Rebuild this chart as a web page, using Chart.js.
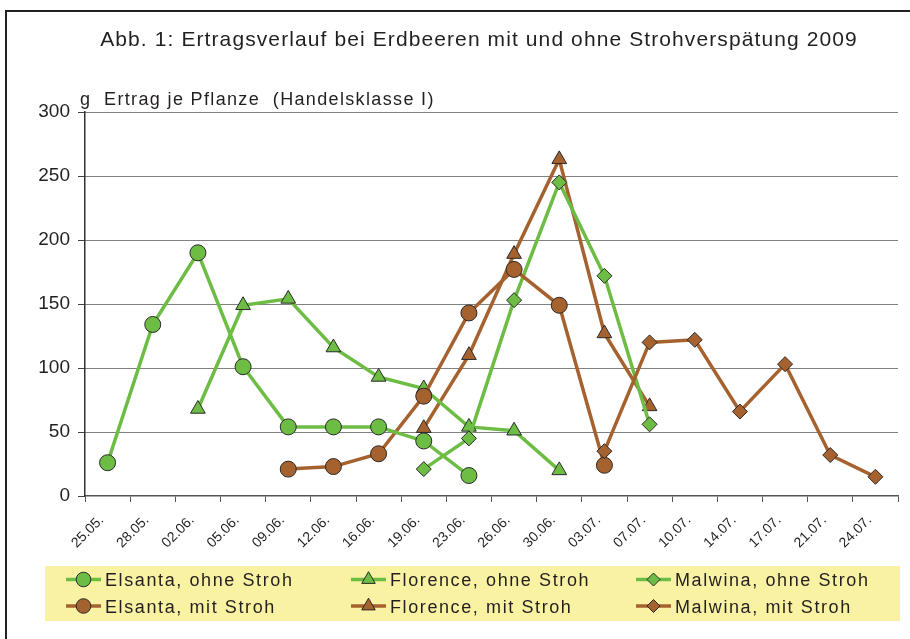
<!DOCTYPE html>
<html>
<head>
<meta charset="utf-8">
<script src="https://cdn.jsdelivr.net/npm/chart.js@4/dist/chart.umd.min.js"></script>
<style>
html,body{margin:0;padding:0;background:#fff;}
#wrap{width:910px;height:639px;position:relative;}
canvas{display:block;}
</style>
</head>
<body>
<div id="wrap"><canvas id="c" width="910" height="639"></canvas></div>
<script>
// ---- data ----
const titleText = 'Abb. 1: Ertragsverlauf bei Erdbeeren mit und ohne Strohverspätung 2009';
const yTitleText = 'g  Ertrag je Pflanze  (Handelsklasse I)';
const categories = ['25.05.','28.05.','02.06.','05.06.','09.06.','12.06.','16.06.','19.06.','23.06.','26.06.','30.06.','03.07.','07.07.','10.07.','14.07.','17.07.','21.07.','24.07.'];
const yTicks = [0, 50, 100, 150, 200, 250, 300];

const elsantaOhne  = [26, 134, 190, 101, 54, 54, 54, 43, 16, null, null, null, null, null, null, null, null, null];
const florenceOhne = [null, null, 68, 149, 154, 116, 93, 84, 54, 51, 20, null, null, null, null, null, null, null];
const malwinaOhne  = [null, null, null, null, null, null, null, 21, 45, 153, 245, 172, 56, null, null, null, null, null];
const elsantaMit   = [null, null, null, null, 21, 23, 33, 78, 143, 177, 149, 24, null, null, null, null, null, null];
const florenceMit  = [null, null, null, null, null, null, null, 53, 110, 189, 263, 127, 70, null, null, null, null, null];
const malwinaMit   = [null, null, null, null, null, null, null, null, null, null, null, 35, 120, 122, 66, 103, 32, 15];

const seriesNames = ['Elsanta, ohne Stroh','Florence, ohne Stroh','Malwina, ohne Stroh','Elsanta, mit Stroh','Florence, mit Stroh','Malwina, mit Stroh'];

// ---- styles ----
const GREEN = '#6dbd45';
const BROWN = '#a5622f';
const EDGE = '#2a2a2a';
const FONT = '"Liberation Sans", Arial, Helvetica, sans-serif';
const TEXT = '#231f20';
const radiusFor = {circle: 8, triangle: 8.5, rectRot: 7.5};

function ds(label, data, color, style, order) {
  return {
    label, data, order,
    borderColor: color, backgroundColor: color,
    pointBackgroundColor: color, pointBorderColor: EDGE, pointBorderWidth: 1,
    pointStyle: style, pointRadius: radiusFor[style], pointHoverRadius: radiusFor[style],
    borderWidth: 3.5, fill: false, tension: 0, spanGaps: false
  };
}

const datasets = [
  ds(seriesNames[0], elsantaOhne, GREEN, 'circle', 1),
  ds(seriesNames[1], florenceOhne, GREEN, 'triangle', 5),
  ds(seriesNames[2], malwinaOhne, GREEN, 'rectRot', 4),
  ds(seriesNames[3], elsantaMit, BROWN, 'circle', 3),
  ds(seriesNames[4], florenceMit, BROWN, 'triangle', 6),
  ds(seriesNames[5], malwinaMit, BROWN, 'rectRot', 2)
];

function marker(ctx, style, x, y, r) {
  ctx.beginPath();
  if (style === 'circle') {
    ctx.arc(x, y, r, 0, Math.PI * 2);
  } else if (style === 'triangle') {
    ctx.moveTo(x, y - r);
    ctx.lineTo(x + 0.866 * r, y + 0.5 * r);
    ctx.lineTo(x - 0.866 * r, y + 0.5 * r);
  } else {
    ctx.moveTo(x - r, y); ctx.lineTo(x, y - r); ctx.lineTo(x + r, y); ctx.lineTo(x, y + r);
  }
  ctx.closePath();
  ctx.fill();
  ctx.stroke();
}

const decorPlugin = {
  id: 'decor',
  beforeDraw(c) {
    const ctx = c.ctx;
    ctx.save();
    ctx.fillStyle = '#fff';
    ctx.fillRect(0, 0, c.width, c.height);
    ctx.restore();
  },
  afterDraw(c) {
    const ctx = c.ctx;
    ctx.save();
    // frame
    ctx.strokeStyle = '#222';
    ctx.lineWidth = 2;
    ctx.beginPath();
    ctx.moveTo(6, 639); ctx.lineTo(6, 11); ctx.lineTo(910, 11);
    ctx.stroke();

    // title
    ctx.fillStyle = TEXT;
    ctx.textBaseline = 'alphabetic';
    ctx.textAlign = 'left';
    ctx.font = '21px ' + FONT;
    ctx.letterSpacing = '1.1px';
    let w = ctx.measureText(titleText).width;
    ctx.fillText(titleText, 479 - w / 2, 46);

    // y axis title
    ctx.font = '18px ' + FONT;
    ctx.letterSpacing = '1.35px';
    ctx.fillText(yTitleText, 80, 105);

    // legend
    ctx.fillStyle = '#faf2a3';
    ctx.fillRect(45, 566, 855, 55);
    const colX = [66, 351, 636];
    const rowY = [579.5, 606];
    const styles = ['circle', 'triangle', 'rectRot'];
    const legR = {circle: 7.3, triangle: 7.8, rectRot: 6.5};
    ctx.font = '18px ' + FONT;
    ctx.letterSpacing = '1.6px';
    for (let i = 0; i < 6; i++) {
      const d = c.data.datasets[i];
      const col = i % 3, row = Math.floor(i / 3);
      const x0 = colX[col], y = rowY[row];
      ctx.strokeStyle = d.borderColor;
      ctx.lineWidth = 3.5;
      ctx.beginPath(); ctx.moveTo(x0, y); ctx.lineTo(x0 + 35, y); ctx.stroke();
      ctx.fillStyle = d.borderColor;
      ctx.strokeStyle = EDGE;
      ctx.lineWidth = 1;
      marker(ctx, styles[col], x0 + 17.5, y, legR[styles[col]]);
      ctx.fillStyle = TEXT;
      ctx.fillText(d.label, x0 + 39, y + 6.5);
    }
    ctx.restore();
  }
};

new Chart(document.getElementById('c'), {
  type: 'line',
  data: { labels: categories, datasets },
  plugins: [decorPlugin],
  options: {
    responsive: false,
    animation: false,
    devicePixelRatio: 1,
    layout: { padding: { top: 112, right: 12, bottom: 0, left: 0 } },
    plugins: { legend: { display: false }, tooltip: { enabled: false }, title: { display: false } },
    scales: {
      x: {
        type: 'category',
        offset: true,
        grid: { display: true, offset: true, drawOnChartArea: false, drawTicks: true, tickLength: 6, color: '#555', tickColor: '#555', tickWidth: 1 },
        border: { display: true, color: '#555', width: 1.5 },
        ticks: { minRotation: 45, maxRotation: 45, autoSkip: false, padding: 10, labelOffset: -6, color: TEXT, font: { family: FONT, size: 14 } },
        afterFit(s) { s.height = 143; }
      },
      y: {
        min: 0, max: 300,
        afterBuildTicks(s) { s.ticks = yTicks.map(v => ({ value: v })); },
        grid: {
          drawTicks: true, tickLength: 7, lineWidth: 1,
          color: ctx => (ctx.tick && ctx.tick.value === 0) ? 'rgba(0,0,0,0)' : '#000',
          tickColor: '#444', tickWidth: 1, tickBorderDash: []
        },
        border: { display: true, color: '#333', width: 1.5, dash: [1, 1] },
        ticks: { padding: 8, color: TEXT, font: { family: FONT, size: 19 } },
        afterFit(s) { s.width = 85; }
      }
    }
  }
});
</script>
</body>
</html>
